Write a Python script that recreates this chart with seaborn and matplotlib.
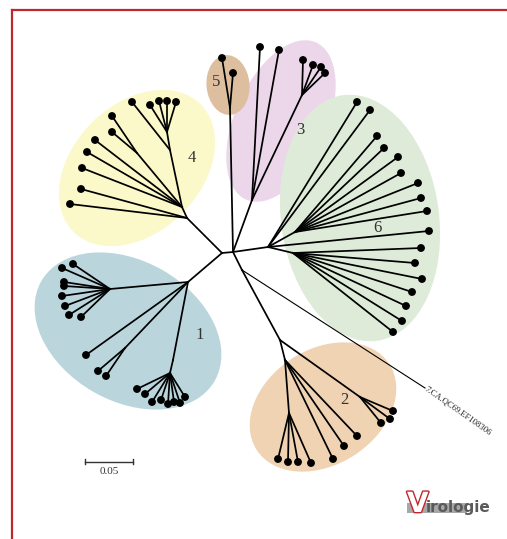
import pandas as pd
import matplotlib
matplotlib.use("Agg")
import matplotlib.pyplot as plt
import matplotlib.patheffects as pe
from matplotlib.patches import Ellipse, Rectangle
import seaborn as sns

# tree nodes (pixel layout of the unrooted tree, y grows downwards)
node_id = ["R1", "R2", "R3",
           "C4a", "t4_1", "t4_2", "C4b", "t4_3", "t4_4", "t4_5", "C4c", "t4_6", "t4_7",
           "C4d", "t4_8", "C4e", "t4_9", "t4_10", "t4_11", "t4_12",
           "C1a", "C1b", "t1_1", "t1_2", "t1_3", "t1_4", "t1_5", "t1_6", "t1_7", "t1_8",
           "t1_9", "C1c", "t1_10", "t1_11", "C1d", "C1e",
           "t1_12", "t1_13", "t1_14", "t1_15", "t1_16", "t1_17", "t1_18", "t1_19",
           "C5a", "t5_1", "t5_2",
           "C3a", "t3_1", "t3_2", "C3b", "t3_3", "t3_4", "t3_5", "t3_6",
           "C6a", "t6_1", "t6_2", "C6b", "t6_3", "t6_4", "t6_5", "t6_6", "t6_7", "t6_8", "t6_9",
           "t6_10", "C6c", "t6_11", "t6_12", "t6_13", "t6_14", "t6_15", "t6_16", "t6_17",
           "C2a", "C2b", "t2_1", "t2_2", "t2_3", "C2c", "t2_4", "t2_5", "t2_6",
           "C2d", "t2_7", "t2_8", "t2_9", "t2_10",
           "out"]
node_parent = [None, "R1", "R2",
               "R1", "C4a", "C4a", "C4a", "C4b", "C4b", "C4b", "C4b", "C4c", "C4c",
               "C4b", "C4d", "C4d", "C4e", "C4e", "C4e", "C4e",
               "R1", "C1a", "C1b", "C1b", "C1b", "C1b", "C1b", "C1b", "C1b", "C1b",
               "C1a", "C1a", "C1c", "C1c", "C1a", "C1d",
               "C1e", "C1e", "C1e", "C1e", "C1e", "C1e", "C1e", "C1e",
               "R2", "C5a", "C5a",
               "R2", "C3a", "C3a", "C3a", "C3b", "C3b", "C3b", "C3b",
               "R2", "C6a", "C6a", "C6a", "C6b", "C6b", "C6b", "C6b", "C6b", "C6b", "C6b",
               "C6a", "C6a", "C6c", "C6c", "C6c", "C6c", "C6c", "C6c", "C6c",
               "R3", "C2a", "C2b", "C2b", "C2b", "C2a", "C2c", "C2c", "C2c",
               "C2c", "C2d", "C2d", "C2d", "C2d",
               "R3"]
node_x = [222, 233, 242,
          187, 70, 81, 182, 82, 87, 95, 137, 112, 112,
          170, 132, 167, 150, 159, 167, 176,
          188, 110, 73, 62, 64, 64, 62, 65, 69, 81,
          86, 125, 98, 106, 173, 170,
          137, 145, 152, 161, 168, 174, 180, 185,
          230, 222, 233,
          252, 260, 279, 302, 303, 313, 321, 325,
          268, 357, 370, 295, 377, 384, 398, 401, 418, 421, 427,
          429, 293, 421, 415, 422, 412, 406, 402, 393,
          280, 360, 393, 390, 381, 285, 357, 344, 333,
          289, 278, 288, 298, 311,
          425]
node_y = [253, 252, 270,
          218, 204, 189, 207, 168, 152, 140, 153, 132, 116,
          150, 102, 132, 105, 101, 101, 102,
          282, 289, 264, 268, 282, 286, 296, 306, 315, 317,
          355, 348, 371, 376, 360, 373,
          389, 394, 402, 400, 404, 402, 403, 397,
          108, 58, 73,
          200, 47, 50, 95, 60, 65, 67, 73,
          247, 102, 110, 232, 136, 148, 157, 173, 183, 198, 211,
          231, 253, 248, 263, 279, 292, 306, 321, 332,
          340, 397, 411, 419, 423, 360, 436, 446, 459,
          413, 459, 462, 462, 463,
          388]

# clusters
cluster_labels = ["1", "2", "3", "4", "5", "6"]
cluster_colors = ["#bad6dc", "#efd3b2", "#ecd6ea", "#fbf8c9", "#ddbf9f", "#dfebd9"]

outlier_name = "7.CA.QC69.EF108306"
scale_value = 0.05

nodes = pd.DataFrame({"id": node_id, "parent": node_parent, "x": node_x, "y": node_y})
pos = nodes.set_index("id")[["x", "y"]]
nodes["tip"] = nodes["id"].str.startswith("t")

rows = []
for i, r in nodes.dropna(subset=["parent"]).iterrows():
    px, py = pos.loc[r["parent"]]
    kind = "out" if r["id"] == "out" else "in"
    rows.append({"edge": r["id"], "x": px, "y": py, "kind": kind})
    rows.append({"edge": r["id"], "x": r["x"], "y": r["y"], "kind": kind})
edges = pd.DataFrame(rows)

fig = plt.figure(figsize=(5.07, 5.39), dpi=100)
ax = fig.add_axes([0, 0, 1, 1])

# cluster shading
ell_center = [(128, 331), (323, 407), (281, 121), (137, 168), (228, 85), (360, 218)]
ell_w = [200, 158, 172, 180, 43, 248]
ell_h = [140, 115, 92, 128, 60, 158]
ell_ang = [30, -33, -66, -45, -5, 82]
label_pos = [(200, 335), (344, 400), (300, 130), (192, 158), (216, 82), (377, 228)]
for c, w, h, a, col in zip(ell_center, ell_w, ell_h, ell_ang, cluster_colors):
    ax.add_patch(Ellipse(c, w, h, angle=a, facecolor=col, edgecolor="none", zorder=0))
for lab, (lx, ly) in zip(cluster_labels, label_pos):
    ax.text(lx, ly, lab, fontsize=12, family="Liberation Serif", color="#333333",
            ha="center", va="center", zorder=1)

sns.lineplot(data=edges[edges["kind"] == "in"], x="x", y="y", units="edge", estimator=None,
             sort=False, color="black", lw=1.25, ax=ax, zorder=2)
sns.lineplot(data=edges[edges["kind"] == "out"], x="x", y="y", units="edge", estimator=None,
             sort=False, color="black", lw=0.8, ax=ax, zorder=2)
sns.scatterplot(data=nodes[nodes["tip"]], x="x", y="y", color="black", s=32,
                edgecolor="none", ax=ax, zorder=3)
ax.set_xlim(0, 507)
ax.set_ylim(539, 0)
ax.axis("off")

ox, oy = pos.loc["out"]
ax.text(ox, oy, outlier_name, fontsize=6.2, family="Liberation Serif", rotation=-35,
        rotation_mode="anchor", ha="left", va="center", color="#222222")

# scale bar
ax.plot([85, 133], [461.5, 461.5], color="#333333", lw=1)
ax.plot([85, 85], [459, 464], color="#333333", lw=1)
ax.plot([133, 133], [459, 464], color="#333333", lw=1)
ax.text(109, 472, f"{scale_value:.2f}", fontsize=8, family="Liberation Serif",
        ha="center", va="center", color="#333333")

# frame
ax.plot([12, 507], [10, 10], color="#c0272d", lw=1.6, clip_on=False)
ax.plot([12, 12], [10, 539], color="#c0272d", lw=1.6, clip_on=False)

# logo
ax.add_patch(Rectangle((407, 503), 60, 10, facecolor="#a8a8a8", edgecolor="none"))
ax.text(407, 512, "V", fontsize=20, fontweight="bold", family="DejaVu Sans", color="white",
        ha="left", va="baseline",
        path_effects=[pe.withStroke(linewidth=2.0, foreground="#c4262e")])
ax.text(426, 512, "irologie", fontsize=11, fontweight="bold", family="DejaVu Sans",
        color="#5a5a5a", ha="left", va="baseline")

fig.savefig("out.png", dpi=100)
